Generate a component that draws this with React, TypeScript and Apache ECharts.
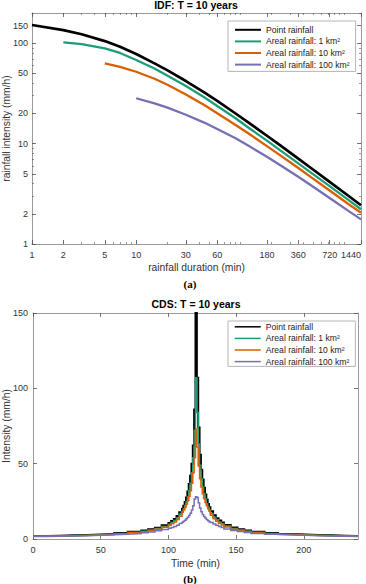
import React, { useEffect, useRef } from "react";
import * as echarts from "echarts";

const FONT = "'Liberation Sans', Arial, Helvetica, sans-serif";
const SERIES_NAMES = [
  "Point rainfall",
  "Areal rainfall: 1 km²",
  "Areal rainfall: 10 km²",
  "Areal rainfall: 100 km²",
];
const COLORS = ["#000000", "#1b9e77", "#d95f02", "#7570b3"];

// ---------- (a) IDF curves, T = 10 years ----------
const idfDurations = [1, 2, 3, 5, 7, 10, 15, 20, 30, 45, 60, 90, 120, 180, 240, 360, 480, 720, 1080, 1440];
const idfPoint = [152, 135, 123, 105, 92, 78, 63, 53.6, 42, 32.4, 26.6, 19.95, 16.2, 11.97, 9.64, 7.08, 5.68, 4.16, 3.04, 2.43];
const idfArea1 = [null, 102, 98, 89, 80, 68, 56, 47.5, 37.5, 29, 23.7, 17.9, 14.4, 10.7, 8.6, 6.35, 5.11, 3.77, 2.77, 2.22];
const idfArea10 = [null, null, null, 63, 58, 52, 44.3, 38.6, 30.9, 24.2, 20.1, 15.3, 12.6, 9.45, 7.68, 5.71, 4.61, 3.41, 2.52, 2.05];
const idfArea100 = [null, null, null, null, null, 28.3, 25.2, 22.8, 19.4, 16.2, 14.0, 11.3, 9.5, 7.4, 6.13, 4.67, 3.83, 2.87, 2.15, 1.76];
const idfXTicks = [1, 2, 5, 10, 30, 60, 180, 360, 720, 1440];
const idfYTicks = [1, 2, 5, 10, 20, 50, 100, 150];
const idfXMinorTicks = [1, 2, 3, 4, 5, 6, 7, 8, 9, 10, 20, 30, 40, 50, 60, 70, 80, 90, 100, 200, 300, 400, 500, 600, 700, 800, 900, 1000];
const idfYMinorTicks = [1, 2, 3, 4, 5, 6, 7, 8, 9, 10, 20, 30, 40, 50, 60, 70, 80, 90, 100, 200];
const idfXMax = 1440;
const idfYMax = 200;

// ---------- (b) CDS hyetographs, T = 10 years ----------
const cdsBlockStart = [
  0, 10, 20, 30, 40, 50, 60, 70, 80, 85, 90, 95, 100, 102, 104, 106, 108,
  110, 111, 112, 113, 114, 115, 116, 117, 118, 119, 120, 121, 122, 123, 124, 125, 126, 127, 128, 129, 130,
  131, 133, 135, 137, 139, 141, 146, 151, 156, 161, 171, 181, 191, 201, 211, 221, 231,
];
const cdsEnd = 240;
const cdsPoint = [
  2.05, 2.2, 2.43, 2.69, 2.99, 3.37, 3.94, 4.74, 5.63, 6.42, 7.53, 9.1, 10.7, 11.9, 13.3, 15.3, 17.8,
  20, 22, 24.5, 27.5, 31.5, 36.5, 42, 50, 62, 86, 152, 107, 74, 56, 46, 39.5, 34, 29.5, 26, 23.2, 21,
  18.5, 15.8, 13.8, 12.2, 11.0, 9.3, 7.6, 6.5, 5.67, 4.78, 3.96, 3.39, 3.0, 2.7, 2.44, 2.22, 2.05,
];
const cdsArea1 = [
  1.93, 2.07, 2.28, 2.52, 2.8, 3.15, 3.67, 4.4, 5.2, 5.93, 6.93, 8.35, 9.8, 10.9, 12.2, 14.0, 16.4,
  18.3, 20, 22.2, 24.8, 28, 32, 37, 44, 54, 72, 107, 84, 63, 49, 40, 34.5, 30, 26.3, 23.4, 21, 19.1,
  17.0, 14.5, 12.7, 11.2, 10.1, 8.55, 7.0, 6.0, 5.22, 4.42, 3.67, 3.15, 2.8, 2.52, 2.28, 2.08, 1.93,
];
const cdsArea10 = [
  1.82, 1.95, 2.14, 2.37, 2.64, 2.97, 3.45, 4.13, 4.88, 5.55, 6.5, 7.8, 9.1, 10.1, 11.3, 13.0, 15.1,
  17.8, 19.2, 21, 23, 25.4, 28.3, 32, 37, 44, 54, 73, 61, 48.5, 40, 34.5, 30, 26.8, 24.2, 22, 20, 18.5,
  15.8, 13.5, 11.8, 10.4, 9.35, 7.95, 6.5, 5.6, 4.9, 4.15, 3.45, 2.98, 2.64, 2.38, 2.15, 1.97, 1.82,
];
const cdsArea100 = [
  1.7, 1.83, 2.0, 2.2, 2.45, 2.75, 3.15, 3.6, 4.2, 4.7, 5.4, 6.3, 7.1, 7.7, 8.35, 9.2, 10.3,
  11.1, 11.7, 12.5, 13.4, 14.4, 15.6, 17.1, 19.2, 22, 26.5, 28, 27.5, 24, 20.5, 18.1, 16.3, 15, 13.9, 12.9, 12.1, 11.4,
  10.9, 9.9, 9.1, 8.3, 7.7, 6.7, 5.6, 4.9, 4.3, 3.7, 3.1, 2.7, 2.45, 2.2, 2.0, 1.85, 1.72,
];
const cdsXTicks = [0, 50, 100, 150, 200];
const cdsYTicks = [0, 50, 100, 150];
const cdsYMax = 150;

const lg = (v: number) => Math.log10(v);
const fmtLog = (v: number) => String(Math.round(Math.pow(10, v)));

const BOX = "#9a9a9a";
const TICK = "#555555";
const LABEL = "#333333";

function buildOption() {
  const idfSets = [idfPoint, idfArea1, idfArea10, idfArea100];
  const cdsSets = [cdsPoint, cdsArea1, cdsArea10, cdsArea100];

  const baseAxis = (extra: any) => ({
    type: "value",
    splitLine: { show: false },
    axisLine: { show: true, onZero: false, lineStyle: { color: BOX, width: 1 } },
    axisTick: { show: true, inside: true, length: 4, lineStyle: { color: TICK, width: 0.8 } },
    axisLabel: { show: false },
    ...extra,
  });

  const labelStyle = { color: LABEL, fontSize: 9, fontFamily: FONT };
  const nameStyle = { color: LABEL, fontSize: 10.3, fontFamily: FONT };
  const majorTick = (vals: number[]) => ({ show: true, inside: true, length: 4, customValues: vals, lineStyle: { color: TICK, width: 0.8 } });
  const minorTick = (vals: number[]) => ({ show: true, inside: true, length: 2, customValues: vals, lineStyle: { color: TICK, width: 0.6 } });

  const xAxis = [
    baseAxis({
      gridIndex: 0, position: "bottom", min: 0, max: lg(idfXMax),
      axisTick: majorTick(idfXTicks.map(lg)),
      axisLabel: { show: true, customValues: idfXTicks.map(lg), formatter: fmtLog, margin: 6, alignMaxLabel: "right", ...labelStyle },
      name: "rainfall duration (min)", nameLocation: "middle", nameGap: 18, nameTextStyle: nameStyle,
    }),
    baseAxis({
      gridIndex: 0, position: "bottom", min: 0, max: lg(idfXMax),
      axisLine: { show: false, onZero: false },
      axisTick: minorTick(idfXMinorTicks.map(lg)),
    }),
    baseAxis({
      gridIndex: 0, position: "top", min: 0, max: lg(idfXMax),
      axisTick: majorTick(idfXTicks.map(lg)),
    }),
    baseAxis({
      gridIndex: 0, position: "top", min: 0, max: lg(idfXMax),
      axisLine: { show: false, onZero: false },
      axisTick: minorTick(idfXMinorTicks.map(lg)),
    }),
    baseAxis({
      gridIndex: 1, position: "bottom", min: 0, max: cdsEnd,
      axisTick: majorTick(cdsXTicks),
      axisLabel: { show: true, customValues: cdsXTicks, margin: 6, ...labelStyle },
      name: "Time (min)", nameLocation: "middle", nameGap: 19, nameTextStyle: nameStyle,
    }),
    baseAxis({
      gridIndex: 1, position: "top", min: 0, max: cdsEnd,
      axisTick: majorTick(cdsXTicks),
    }),
  ];

  const yAxis = [
    baseAxis({
      gridIndex: 0, position: "left", min: 0, max: lg(idfYMax),
      axisTick: majorTick(idfYTicks.map(lg)),
      axisLabel: { show: true, customValues: idfYTicks.map(lg), formatter: fmtLog, margin: 4, ...labelStyle },
    }),
    baseAxis({
      gridIndex: 0, position: "left", min: 0, max: lg(idfYMax),
      axisLine: { show: false, onZero: false },
      axisTick: minorTick(idfYMinorTicks.map(lg)),
    }),
    baseAxis({
      gridIndex: 0, position: "right", min: 0, max: lg(idfYMax),
      axisTick: majorTick(idfYTicks.map(lg)),
    }),
    baseAxis({
      gridIndex: 0, position: "right", min: 0, max: lg(idfYMax),
      axisLine: { show: false, onZero: false },
      axisTick: minorTick(idfYMinorTicks.map(lg)),
    }),
    baseAxis({
      gridIndex: 1, position: "left", min: 0, max: cdsYMax,
      axisTick: majorTick(cdsYTicks),
      axisLabel: { show: true, customValues: cdsYTicks, margin: 5, ...labelStyle },
    }),
    baseAxis({
      gridIndex: 1, position: "right", min: 0, max: cdsYMax,
      axisTick: majorTick(cdsYTicks),
    }),
  ];

  const idfWidths = [2.7, 2.3, 2.3, 2.3];
  const cdsWidths = [2.0, 1.5, 1.5, 1.5];

  const series: any[] = [];
  idfSets.forEach((vals, s) => {
    const data = idfDurations
      .map((d, i) => (vals[i] == null ? null : [lg(d), lg(vals[i] as number)]))
      .filter((p) => p !== null);
    series.push({
      type: "line", name: SERIES_NAMES[s], xAxisIndex: 0, yAxisIndex: 0,
      data, symbol: "none", smooth: false, color: COLORS[s],
      lineStyle: { color: COLORS[s], width: idfWidths[s] },
    });
  });
  cdsSets.forEach((vals, s) => {
    const data = cdsBlockStart.map((t, i) => [t, vals[i]]);
    data.push([cdsEnd, vals[vals.length - 1]]);
    series.push({
      type: "line", name: SERIES_NAMES[s], xAxisIndex: 4, yAxisIndex: 4,
      data, symbol: "none", step: "end", color: COLORS[s],
      lineStyle: { color: COLORS[s], width: cdsWidths[s], join: "miter" },
    });
  });

  const legendBase = {
    orient: "vertical",
    data: SERIES_NAMES,
    itemWidth: 26,
    itemHeight: 12,
    itemGap: 2,
    selectedMode: false,
    borderColor: "#b5b5b5",
    borderWidth: 1,
    backgroundColor: "#ffffff",
    itemStyle: { opacity: 0 },
    textStyle: { color: "#222222", fontSize: 8.6, fontFamily: FONT },
  };

  const nameFont = `10.3px ${FONT}`;

  return {
    animation: false,
    backgroundColor: "#ffffff",
    grid: [
      { left: 32, top: 13, width: 329, height: 231, containLabel: false, outerBoundsMode: "none" },
      { left: 33, top: 313, width: 325, height: 226, containLabel: false, outerBoundsMode: "none" },
    ],
    xAxis,
    yAxis,
    legend: [
      { ...legendBase, left: 228, top: 21, padding: [4, 6, 2, 6] },
      { ...legendBase, left: 228, top: 321, padding: [1, 6, 0, 6], lineStyle: { width: 1.5 } },
    ],
    graphic: [
      { type: "text", x: 196, y: 5, style: { text: "IDF: T = 10 years", fill: "#000", font: `bold 10.5px ${FONT}`, align: "center", verticalAlign: "middle" } },
      { type: "text", x: 196, y: 304, style: { text: "CDS: T = 10 years", fill: "#000", font: `bold 10.5px ${FONT}`, align: "center", verticalAlign: "middle" } },
      { type: "text", x: 6, y: 128.5, rotation: Math.PI / 2, style: { text: "rainfall intensity (mm/h)", fill: LABEL, font: nameFont, align: "center", verticalAlign: "middle" } },
      { type: "text", x: 6, y: 426, rotation: Math.PI / 2, style: { text: "Intensity (mm/h)", fill: LABEL, font: nameFont, align: "center", verticalAlign: "middle" } },
      { type: "text", x: 190, y: 284, style: { text: "(a)", fill: "#000", font: "bold 11px 'Liberation Serif', 'Times New Roman', serif", align: "center", verticalAlign: "middle" } },
      { type: "text", x: 190, y: 579, style: { text: "(b)", fill: "#000", font: "bold 11px 'Liberation Serif', 'Times New Roman', serif", align: "center", verticalAlign: "middle" } },
    ],
    series,
  };
}

export default function App() {
  const ref = useRef<HTMLDivElement>(null);
  useEffect(() => {
    if (!ref.current) return;
    const chart = echarts.init(ref.current, null, { renderer: "svg" });
    chart.setOption(buildOption() as any);
    return () => chart.dispose();
  }, []);
  return (
    <div
      ref={ref}
      style={{ position: "fixed", left: 0, top: 0, width: 366, height: 584, background: "#fff" }}
    />
  );
}
